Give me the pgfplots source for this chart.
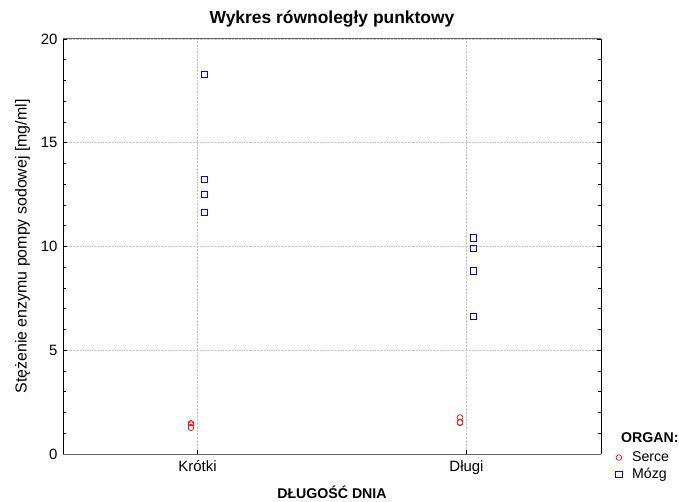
\documentclass[border=0pt]{standalone}
\usepackage{pgfplots}
\pgfplotsset{compat=1.18}
\usepackage{fontspec}
\setmainfont{Liberation Sans}
\definecolor{mblue}{RGB}{0,0,255}
\definecolor{mred}{RGB}{255,0,0}
\pgfdeclareplotmark{bsq}{%
  \pgfsetcolor{mblue}%
  \pgfsetlinewidth{1bp}%
  \pgfpathrectangle{\pgfpoint{-3.2bp}{-3.2bp}}{\pgfpoint{6.4bp}{6.4bp}}%
  \pgfusepathqstroke}
\begin{document}
\begin{tikzpicture}[x=1bp,y=1bp]
\begin{axis}[
  scale only axis,
  width=538bp, height=415bp,
  xmin=0.5, xmax=2.5, ymin=0, ymax=20,
  xtick={1,2}, xticklabels={Krótki,Długi},
  ytick={0,5,10,15,20},
  minor y tick num=4,
  /pgf/number format/assume math mode=true,
  tick label style={font=\fontsize{15}{17}\selectfont},
  xticklabel style={yshift=-3bp},
  tick align=inside,
  xtick pos=bottom,
  major tick length=4bp, minor tick length=3bp,
  tick style={black, line width=0.8pt},
  grid=major,
  major grid style={gray!45, densely dotted, line width=0.6pt},
  axis line style={draw=none},
  title={\textbf{Wykres równoległy punktowy}},
  title style={font=\fontsize{17.5}{19}\selectfont, yshift=2bp},
  xlabel={\textbf{DŁUGOŚĆ DNIA}},
  xlabel style={font=\fontsize{14.2}{16}\selectfont, yshift=-5bp},
  ylabel={Stężenie enzymu pompy sodowej [mg/ml]},
  ylabel style={font=\fontsize{16}{18}\selectfont, yshift=4bp},
  yticklabel style={xshift=-2bp},
  legend style={at={(1.027,0.008)}, anchor=north west, draw=none, fill=none,
    font=\fontsize{14.2}{15}\selectfont, row sep=3bp, column sep=9bp, inner sep=0pt,
    nodes={inner xsep=1bp, inner ysep=1bp}},
  legend cell align=left,
  clip=false,
]
\coordinate (ll) at (rel axis cs:0,0);
\draw[black, line width=0.9pt] (rel axis cs:0,0) -- (rel axis cs:0,1);
\draw[black, line width=0.9pt] (rel axis cs:1,0) -- (rel axis cs:1,1);
\draw[gray!80!black, line width=1pt] (rel axis cs:0,0) -- (rel axis cs:1,0);
\draw[gray!80!black, line width=1pt] (rel axis cs:0,1) -- (rel axis cs:1,1);
\node[anchor=west, font=\fontsize{14.2}{15}\selectfont\bfseries, inner sep=0pt] at (rel axis cs:1.037,0.039) {ORGAN:};
\addplot[only marks, mark=*, draw=mred, mark options={draw=mred, fill=white}, mark size=2.8bp, line width=0.7pt] coordinates {
 (0.976,1.48) (0.976,1.42) (0.976,1.30) (0.976,1.26)
 (1.976,1.76) (1.976,1.55) (1.976,1.50) (1.976,1.52)
};
\addlegendentry{Serce}
\addplot[only marks, mark=bsq, draw=mblue, mark options={draw=mblue}] coordinates {
 (1.026,18.30) (1.026,13.24) (1.026,12.52) (1.026,11.65)
 (2.026,10.40) (2.026,9.91) (2.026,8.82) (2.026,6.64)
};
\addlegendentry{Mózg}
\end{axis}
\pgfresetboundingbox
\path[use as bounding box] ([shift={(-63bp,-48bp)}]ll) rectangle ++(679bp,502bp);
\end{tikzpicture}
\end{document}
